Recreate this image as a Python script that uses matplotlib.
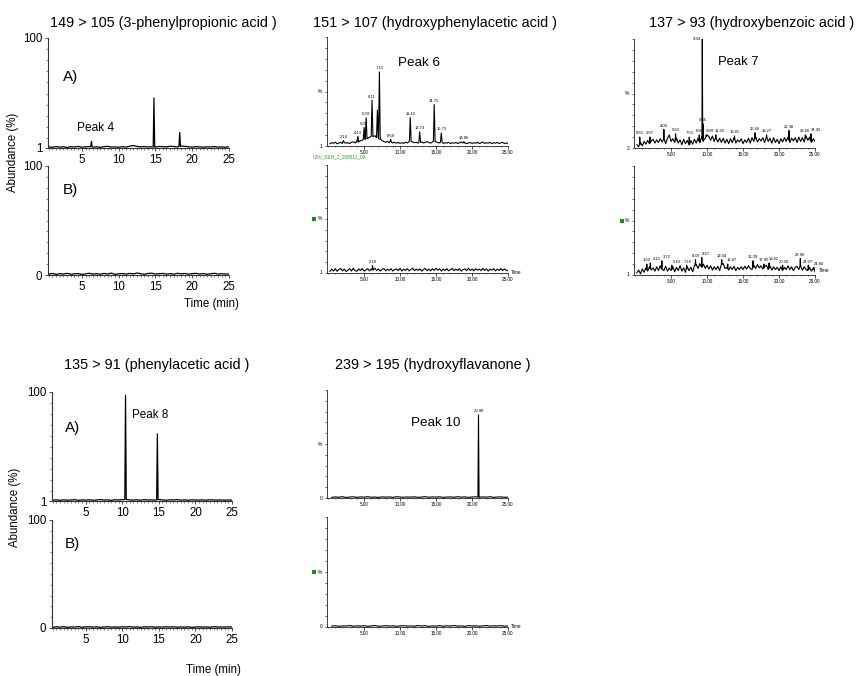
import numpy as np
import matplotlib
matplotlib.use("Agg")
import matplotlib.pyplot as plt
from matplotlib.ticker import MultipleLocator, FixedLocator
from matplotlib.patches import Rectangle

plt.rcParams['font.family'] = ['Liberation Sans', 'DejaVu Sans']

W, H = 858, 676

# ---------------------------------------------------------------- data
# retention-time grids (min) for the baseline traces
t_half = np.arange(0.5, 25.01, 0.5)        # 50 points
t_quarter = np.arange(0.25, 25.01, 0.25)   # 100 points

# 149 > 105 (3-phenylpropionic acid), sample A / sample B
pp_a_noise = [2.0, 1.6, 2.3, 1.8, 2.1, 1.5, 2.2, 1.9, 2.4, 1.7,
              2.0, 2.3, 1.8, 2.1, 1.6, 2.2, 2.5, 1.9, 2.0, 1.7,
              2.2, 1.8, 2.6, 3.2, 2.4, 2.0, 2.3, 1.9, 2.1, 1.8,
              2.4, 2.2, 2.0, 2.6, 2.3, 1.9, 2.8, 2.5, 2.1, 1.8,
              2.2, 2.0, 1.7, 2.1, 1.9, 2.3, 1.8, 2.0, 1.7, 2.1]
pp_a_rt = [6.3, 14.8, 18.3]
pp_a_height = [7, 46, 15]
pp_b_noise = [0.8, 1.4, 0.6, 1.2, 0.9, 1.5, 0.7, 1.1, 1.3, 0.6,
              1.0, 1.6, 0.8, 1.2, 0.7, 1.4, 0.9, 1.7, 0.6, 1.1,
              1.3, 0.8, 1.5, 1.0, 1.8, 1.2, 0.7, 1.4, 1.6, 0.9,
              1.1, 1.5, 0.8, 1.3, 0.7, 1.6, 1.0, 1.4, 0.8, 1.2,
              1.5, 0.9, 1.3, 0.7, 1.1, 1.6, 0.8, 1.2, 0.9, 1.0]

# 151 > 107 (hydroxyphenylacetic acid)
hpa_a_noise = [2.0, 3.0, 2.5, 3.5, 2.0, 2.8, 3.2, 2.4, 3.6, 2.6,
               3.0, 2.2, 3.4, 3.8, 2.8, 4.2, 3.6, 4.8, 5.2, 6.0,
               6.5, 7.0, 8.0, 9.0, 8.5, 9.5, 8.0, 7.0, 6.0, 5.0,
               4.0, 3.5, 4.2, 3.0, 3.6, 2.8, 3.4, 2.6, 3.2, 2.5,
               3.0, 2.4, 3.5, 2.8, 3.8, 4.5, 3.6, 3.0, 3.4, 2.6,
               3.2, 3.8, 2.8, 3.4, 4.0, 3.2, 2.6, 3.6, 4.2, 3.8,
               3.2, 2.8, 3.6, 2.4, 3.0, 2.6, 3.4, 2.2, 3.0, 2.6,
               3.2, 2.4, 2.8, 3.6, 2.6, 3.0, 2.2, 2.8, 3.2, 2.4,
               3.0, 2.6, 3.4, 2.2, 2.8, 3.6, 2.4, 3.0, 2.6, 3.4,
               2.2, 3.0, 2.6, 3.2, 2.4, 2.8, 3.4, 2.2, 2.8, 2.4]
hpa_a_rt = [2.14, 4.13, 5.01, 5.29, 6.11, 7.13, 8.69, 11.42, 12.73, 14.75, 15.73, 18.86]
hpa_a_height = [5, 9, 17, 26, 42, 68, 6, 26, 13, 38, 12, 4]
hpa_a_shoulder_rt = [6.85]
hpa_a_shoulder_height = [33]
hpa_b_noise = [1.5, 3.5, 1.8, 4.0, 1.6, 3.2, 4.2, 2.0, 3.6, 1.4,
               2.6, 4.0, 1.8, 4.4, 2.2, 1.6, 3.8, 2.4, 4.2, 1.8,
               2.8, 4.0, 2.0, 3.6, 2.4, 4.4, 2.2, 3.8, 1.8, 3.2,
               4.2, 2.0, 3.6, 2.4, 4.0, 1.8, 3.2, 3.8, 2.2, 4.2,
               1.8, 3.6, 2.4, 4.0, 2.0, 3.2, 4.4, 2.2, 3.6, 2.4,
               3.8, 1.8, 3.2, 4.2, 2.2, 3.6, 2.0, 4.0, 2.4, 4.4,
               2.6, 3.8, 1.8, 3.6, 2.4, 4.0, 2.0, 3.2, 4.2, 2.2,
               3.6, 2.4, 4.0, 1.8, 3.2, 3.8, 2.2, 4.4, 2.4, 3.6,
               2.0, 4.0, 2.6, 3.6, 2.2, 4.2, 2.4, 3.8, 1.8, 3.6,
               2.6, 4.0, 2.0, 3.6, 2.4, 4.2, 2.2, 3.8, 2.6, 2.0]
hpa_b_rt = [6.18]
hpa_b_height = [7]

# 137 > 93 (hydroxybenzoic acid)
hba_a_noise = [3.0, 1.0, 5.0, 2.0, 6.0, 3.5, 7.0, 4.0, 6.5, 8.0,
               4.5, 7.5, 5.0, 8.5, 5.5, 8.0, 4.0, 9.0, 12.0, 6.0,
               8.5, 5.0, 9.0, 4.5, 7.5, 3.0, 8.0, 4.0, 7.0, 2.5,
               7.0, 3.5, 8.0, 4.5, 9.0, 5.0, 10.0, 6.0, 9.0, 12.0,
               10.5, 7.0, 11.0, 6.0, 9.5, 5.5, 9.0, 5.0, 9.0, 4.5,
               8.0, 4.0, 8.5, 5.0, 9.0, 4.5, 7.5, 5.5, 8.5, 4.0,
               7.5, 5.0, 9.0, 4.5, 9.5, 6.0, 10.5, 5.5, 8.5, 6.5,
               9.5, 5.0, 10.0, 6.0, 9.0, 4.5, 9.5, 5.0, 8.0, 4.0,
               8.5, 5.5, 9.5, 6.0, 10.0, 5.0, 9.0, 6.5, 9.5, 5.0,
               10.0, 6.0, 9.5, 5.5, 11.0, 7.0, 10.0, 5.0, 8.5, 6.0]
hba_a_rt = [0.65, 2.07, 4.00, 5.63, 7.53, 8.92, 9.34, 9.45, 9.89, 11.22,
            13.81, 16.66, 18.27, 21.38, 23.66, 24.43]
hba_a_height = [10, 10, 17, 13, 10, 12, 100, 22, 12, 12,
                11, 14, 12, 16, 12, 13]
hba_b_noise = [2.0, 4.5, 1.0, 5.5, 2.5, 6.5, 3.5, 7.5, 4.5, 6.5,
               3.5, 7.5, 4.0, 8.5, 5.0, 4.0, 8.0, 3.5, 6.5, 4.0,
               7.5, 3.0, 7.0, 4.0, 8.5, 3.5, 6.5, 2.5, 7.5, 4.0,
               7.0, 3.0, 8.5, 9.5, 6.0, 10.5, 7.0, 10.0, 6.0, 9.0,
               5.5, 8.5, 4.5, 7.5, 5.0, 8.0, 4.0, 9.5, 10.5, 6.0,
               7.0, 4.5, 7.5, 5.0, 8.0, 4.0, 7.0, 5.0, 7.5, 5.0,
               8.0, 5.5, 8.5, 6.0, 5.0, 9.0, 6.0, 9.5, 6.5, 8.5,
               5.5, 7.5, 9.0, 5.0, 8.0, 4.5, 7.5, 5.0, 7.0, 4.0,
               7.5, 4.5, 7.0, 5.0, 8.5, 5.0, 7.5, 4.0, 7.0, 8.0,
               5.0, 8.5, 4.5, 7.5, 5.0, 4.0, 7.0, 3.5, 6.0, 3.0]
hba_b_rt = [1.63, 2.12, 3.72, 5.10, 7.16, 8.39, 9.27, 12.04, 12.87, 16.39,
            17.90, 18.62, 20.50, 22.96, 24.07, 24.84]
hba_b_height = [10, 11, 13, 9, 9, 14, 16, 14, 10, 13,
                10, 11, 9, 15, 9, 7]

# 135 > 91 (phenylacetic acid)
pa_a_noise = [1.8, 2.0, 1.6, 2.1, 1.7, 1.9, 2.2, 1.6, 2.0, 1.8,
              2.1, 1.7, 1.9, 2.3, 1.8, 2.0, 1.6, 2.1, 1.9, 2.2,
              2.4, 2.0, 1.8, 2.1, 1.7, 2.2, 1.9, 2.0, 1.8, 2.3,
              2.0, 1.7, 2.1, 1.9, 2.2, 1.8, 2.0, 1.7, 2.1, 1.9,
              1.8, 2.0, 1.7, 2.1, 1.9, 1.8, 2.0, 1.7, 1.9, 1.8]
pa_a_rt = [10.45, 14.8]
pa_a_height = [97, 62]
pa_b_noise = [0.7, 1.1, 0.8, 1.2, 0.6, 1.0, 0.9, 1.3, 0.7, 1.0,
              1.2, 0.8, 1.1, 0.6, 0.9, 1.2, 0.8, 1.0, 0.7, 1.1,
              0.9, 1.3, 0.8, 1.0, 0.6, 1.1, 0.9, 1.2, 0.7, 1.0,
              0.8, 1.1, 0.9, 1.2, 0.7, 1.0, 0.8, 1.1, 0.6, 0.9,
              1.1, 0.8, 1.0, 0.7, 1.2, 0.9, 1.0, 0.8, 1.1, 0.9]

# 239 > 195 (hydroxyflavanone)
hf_a_noise = [0.6, 1.0, 0.7, 1.2, 0.5, 0.9, 1.1, 0.6, 1.0, 0.8,
              1.2, 0.7, 0.9, 0.5, 1.1, 0.8, 1.0, 0.6, 1.2, 0.9,
              0.7, 1.0, 0.8, 1.1, 0.6, 0.9, 1.2, 0.7, 1.0, 0.8,
              1.1, 0.6, 0.9, 1.0, 0.7, 1.2, 0.8, 1.0, 0.6, 0.9,
              1.1, 0.7, 1.0, 0.8, 1.2, 0.6, 0.9, 1.0, 0.7, 0.8]
hf_a_rt = [20.90]
hf_a_height = [77]
hf_b_noise = [0.8, 1.2, 0.6, 1.0, 0.9, 1.3, 0.7, 1.1, 0.8, 1.2,
              0.6, 1.0, 1.3, 0.7, 0.9, 1.2, 0.8, 1.1, 0.6, 1.0,
              1.2, 0.8, 1.0, 0.7, 1.3, 0.9, 1.1, 0.6, 1.0, 0.8,
              1.2, 0.7, 1.1, 0.9, 1.3, 0.8, 1.0, 0.6, 1.2, 0.9,
              1.1, 0.7, 1.0, 1.3, 0.8, 1.1, 0.9, 1.2, 0.7, 1.0]

titles = ["149 > 105 (3-phenylpropionic acid )",
          "151 > 107 (hydroxyphenylacetic acid )",
          "137 > 93 (hydroxybenzoic acid )",
          "135 > 91 (phenylacetic acid )",
          "239 > 195 (hydroxyflavanone )"]
left_xticks = [5, 10, 15, 20, 25]
ml_xticks = [5, 10, 15, 20, 25]
ml_xticklabels = ["5.00", "10.00", "15.00", "20.00", "25.00"]
run_name = "URV_SEH_2_200511_09"

# ---------------------------------------------------------------- helpers
fig = plt.figure(figsize=(W / 100, H / 100), dpi=100)
fig.patch.set_facecolor("white")


def fx(x):
    return x / W


def fy(y):
    return 1 - y / H


def axes_px(x0, y0, x1, y1):
    return fig.add_axes([fx(x0), fy(y1), (x1 - x0) / W, (y1 - y0) / H])


def build_trace(grid, base, rts, heights, half):
    grid = np.asarray(grid, float)
    base = np.asarray(base, float)
    keep = np.ones(len(grid), bool)
    for rt in rts:
        keep &= np.abs(grid - rt) > half
    t = list(grid[keep])
    y = list(base[keep])
    for rt, h in zip(rts, heights):
        b = float(np.interp(rt, grid, base))
        t += [rt - half, rt, rt + half]
        y += [b, h, b]
    order = np.argsort(t, kind="stable")
    return np.asarray(t)[order], np.asarray(y)[order]


def style_left(ax, ymin):
    ax.set_xlim(0.4, 25.0)
    ax.set_ylim(ymin, 100)
    for s in ("top", "right"):
        ax.spines[s].set_visible(False)
    for s in ("left", "bottom"):
        ax.spines[s].set_linewidth(0.8)
        ax.spines[s].set_color("#333333")
    ax.xaxis.set_major_locator(FixedLocator(left_xticks))
    ax.set_xticklabels([str(v) for v in left_xticks])
    ax.xaxis.set_minor_locator(MultipleLocator(0.5))
    ax.yaxis.set_major_locator(FixedLocator([ymin, 100]))
    ax.set_yticklabels([str(ymin), "100"])
    ax.yaxis.set_minor_locator(FixedLocator(np.arange(10, 100, 10)))
    ax.tick_params(which="major", length=2.5, width=0.6, color="#333333",
                   labelsize=8.3, pad=1.5)
    ax.tick_params(which="minor", length=1.3, width=0.5, color="#555555")
    ax.patch.set_alpha(0)


def style_ml(ax, base_label):
    ax.set_xlim(-0.15, 25.0)
    ax.set_ylim(0, 100)
    for s in ("top", "right"):
        ax.spines[s].set_visible(False)
    for s in ("left", "bottom"):
        ax.spines[s].set_linewidth(0.6)
        ax.spines[s].set_color("#222222")
    ax.xaxis.set_major_locator(FixedLocator(ml_xticks))
    ax.set_xticklabels(ml_xticklabels)
    ax.xaxis.set_minor_locator(MultipleLocator(1))
    ax.yaxis.set_major_locator(MultipleLocator(10))
    ax.tick_params(axis="x", which="major", length=2, width=0.5, labelsize=3.3, pad=1)
    ax.tick_params(axis="x", which="minor", length=1, width=0.4)
    ax.tick_params(axis="y", which="major", length=1.5, width=0.4, labelleft=False)
    ax.text(-0.025, 0.5, "%", transform=ax.transAxes, ha="right", va="center", fontsize=3.6)
    ax.text(-0.025, 0.0, base_label, transform=ax.transAxes, ha="right", va="center",
            fontsize=3.6)
    ax.patch.set_alpha(0)


def peak_labels(ax, rts, heights, size=3.0, min_dx=1.4, min_dy=4.5):
    """Retention-time labels above each peak, nudged right when they collide."""
    placed = []
    for rt, h in sorted(zip(rts, heights)):
        x, y = rt, h + 1.5
        for _ in range(20):
            clash = [px for px, py in placed
                     if abs(py - y) < min_dy and px - min_dx < x < px + min_dx]
            if not clash:
                break
            x = max(clash) + min_dx + 0.01
        placed.append((x, y))
        ax.text(x, y, f"{rt:.2f}", ha="center", va="bottom", fontsize=size,
                clip_on=False)


def green_marker(x, y):
    fig.add_artist(Rectangle((fx(x - 2.2), fy(y + 2.2)), 4.4 / W, 4.4 / H,
                             transform=fig.transFigure, color="#1e8c1e", lw=0))


def ftext(x, y, s, **kw):
    fig.text(fx(x), fy(y), s, **kw)


LW = 0.9
MLW = 0.8

# ---------------------------------------------------------------- 149 > 105
ax = axes_px(48, 38, 229, 148)
t, y = build_trace(t_half, pp_a_noise, pp_a_rt, pp_a_height, 0.1)
ax.plot(t, y, color="black", lw=LW)
style_left(ax, 1)
ax.text(0.08, 0.65, "A)", transform=ax.transAxes, fontsize=11, va="center")
ftext(77, 128, "Peak 4", fontsize=8.6, va="center")

ax = axes_px(48, 166, 229, 275)
t, y = build_trace(t_half, pp_b_noise, [], [], 0.1)
ax.plot(t, y, color="black", lw=LW)
style_left(ax, 0)
ax.text(0.08, 0.78, "B)", transform=ax.transAxes, fontsize=11, va="center")
ftext(211, 304, "Time (min)", fontsize=8.3, ha="center", va="center")
ftext(13, 152, "Abundance (%)", fontsize=8.3, ha="center", va="center", rotation=90)
ftext(163, 23, titles[0], fontsize=10.4, ha="center", va="center")

# ---------------------------------------------------------------- 151 > 107
ax = axes_px(327, 37, 508, 146)
t, y = build_trace(t_quarter, hpa_a_noise, hpa_a_rt + hpa_a_shoulder_rt,
                   hpa_a_height + hpa_a_shoulder_height, 0.12)
ax.plot(t, y, color="black", lw=MLW)
style_ml(ax, "1")
peak_labels(ax, hpa_a_rt, hpa_a_height)
ftext(398, 63, "Peak 6", fontsize=9.6, va="center")
ftext(313, 157, run_name, fontsize=3.4, color="#2a9a2a", va="center")
ftext(435, 23, titles[1], fontsize=10.4, ha="center", va="center")

ax = axes_px(327, 165, 508, 273)
t, y = build_trace(t_quarter, hpa_b_noise, hpa_b_rt, hpa_b_height, 0.08)
ax.plot(t, y, color="black", lw=MLW)
style_ml(ax, "1")
peak_labels(ax, hpa_b_rt, hpa_b_height)
ftext(511, 273, "Time", fontsize=3.4, va="center")
green_marker(314, 219)

# ---------------------------------------------------------------- 137 > 93
ax = axes_px(634, 39, 815, 148)
t, y = build_trace(t_quarter, hba_a_noise, hba_a_rt, hba_a_height, 0.05)
ax.plot(t, y, color="black", lw=MLW)
style_ml(ax, "2")
top_rt = [rt for rt, h in zip(hba_a_rt, hba_a_height) if h >= 100]
for rt in top_rt:
    ax.text(rt - 0.15, 100, f"{rt:.2f}", ha="right", va="center", fontsize=3.0,
            clip_on=False)
peak_labels(ax, [rt for rt, h in zip(hba_a_rt, hba_a_height) if h < 100],
            [h for h in hba_a_height if h < 100])
ftext(718, 62, "Peak 7", fontsize=9.4, va="center")
ftext(752, 23, titles[2], fontsize=10.4, ha="center", va="center")

ax = axes_px(634, 166, 815, 275)
t, y = build_trace(t_quarter, hba_b_noise, hba_b_rt, hba_b_height, 0.05)
ax.plot(t, y, color="black", lw=MLW)
style_ml(ax, "1")
peak_labels(ax, hba_b_rt, hba_b_height)
ftext(819, 271, "Time", fontsize=3.4, va="center")
green_marker(622, 221)

# ---------------------------------------------------------------- 135 > 91
ax = axes_px(52, 392, 232, 501)
t, y = build_trace(t_half, pa_a_noise, pa_a_rt, pa_a_height, 0.1)
ax.plot(t, y, color="black", lw=LW)
style_left(ax, 1)
ax.text(0.07, 0.67, "A)", transform=ax.transAxes, fontsize=11, va="center")
ftext(132, 415, "Peak 8", fontsize=8.4, va="center")
ftext(157, 365, titles[3], fontsize=10.4, ha="center", va="center")

ax = axes_px(52, 520, 232, 628)
t, y = build_trace(t_half, pa_b_noise, [], [], 0.1)
ax.plot(t, y, color="black", lw=LW)
style_left(ax, 0)
ax.text(0.07, 0.78, "B)", transform=ax.transAxes, fontsize=11, va="center")
ftext(213, 670, "Time (min)", fontsize=8.3, ha="center", va="center")
ftext(15, 507, "Abundance (%)", fontsize=8.3, ha="center", va="center", rotation=90)

# ---------------------------------------------------------------- 239 > 195
ax = axes_px(327, 390, 508, 498)
t, y = build_trace(t_half, hf_a_noise, hf_a_rt, hf_a_height, 0.08)
ax.plot(t, y, color="black", lw=MLW)
style_ml(ax, "0")
peak_labels(ax, hf_a_rt, hf_a_height)
ftext(411, 423, "Peak 10", fontsize=9.6, va="center")
ftext(433, 365, titles[4], fontsize=10.4, ha="center", va="center")

ax = axes_px(327, 517, 508, 627)
t, y = build_trace(t_half, hf_b_noise, [], [], 0.08)
ax.plot(t, y, color="black", lw=MLW)
style_ml(ax, "0")
ftext(511, 626, "Time", fontsize=3.4, va="center")
green_marker(314, 572)

fig.savefig("out.png", dpi=100, facecolor="white")
